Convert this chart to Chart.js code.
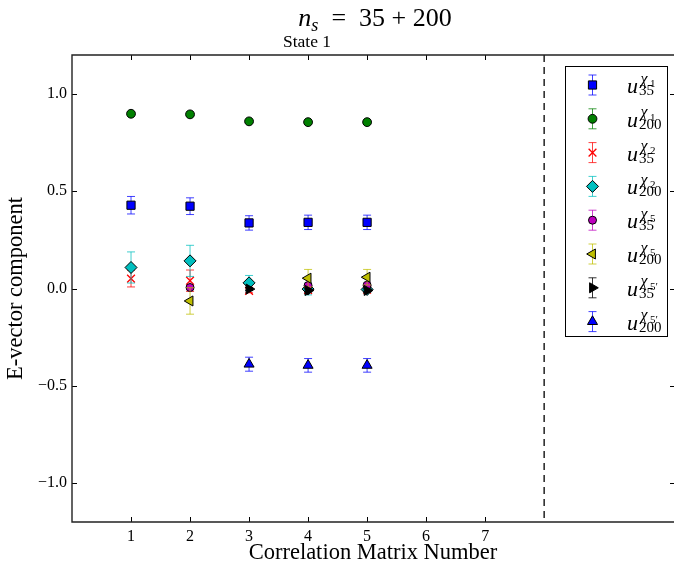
<!DOCTYPE html>
<html>
<head>
<meta charset="utf-8">
<script src="https://cdn.jsdelivr.net/npm/chart.js@4/dist/chart.umd.min.js"></script>
<style>
  html, body { margin: 0; padding: 0; background: #fff; overflow: hidden; }
  #wrap { position: relative; width: 674px; height: 564px; }
  #c { position: absolute; left: 0; top: 0; }
  .t { position: absolute; font-family: 'Liberation Serif', serif; color: #000; white-space: nowrap; line-height: 1; }
  .i { font-style: italic; }
</style>
</head>
<body>
<div id="wrap"><canvas id="c" width="674" height="564"></canvas></div>
<script>
// ---- data ----
const categories = [1, 2, 3, 4, 5];
const xTicks = [1, 2, 3, 4, 5, 6, 7];
const yTicks = [-1.0, -0.5, 0.0, 0.5, 1.0];
const xRange = [0, 10.2];
const yRange = [-1.2, 1.2];
const dividerAt = 8;

const u35_chi1      = [0.428, 0.423, 0.337, 0.340, 0.340];
const u35_chi1_err  = [0.045, 0.043, 0.037, 0.037, 0.037];
const u200_chi1     = [0.898, 0.895, 0.859, 0.855, 0.855];
const u200_chi1_err = [0.012, 0.012, 0.008, 0.008, 0.008];
const u35_chi2      = [0.051, 0.040, -0.012, -0.008, -0.006];
const u35_chi2_err  = [0.043, 0.055, 0.010, 0.010, 0.010];
const u200_chi2     = [0.108, 0.142, 0.029, -0.003, -0.005];
const u200_chi2_err = [0.080, 0.080, 0.038, 0.030, 0.015];
const u35_chi5      = [null, 0.005, null, 0.015, 0.017];
const u35_chi5_err  = [null, 0.010, null, 0.010, 0.010];
const u200_chi5     = [null, -0.064, null, 0.053, 0.058];
const u200_chi5_err = [null, 0.068, null, 0.045, 0.040];
const u35_chi5p     = [null, null, -0.003, -0.010, -0.010];
const u35_chi5p_err = [null, null, 0.008, 0.008, 0.008];
const u200_chi5p    = [null, null, -0.389, -0.395, -0.395];
const u200_chi5p_err= [null, null, 0.036, 0.035, 0.035];

const seriesValues = [u35_chi1, u200_chi1, u35_chi2, u200_chi2, u35_chi5, u200_chi5, u35_chi5p, u200_chi5p];
const seriesErrors = [u35_chi1_err, u200_chi1_err, u35_chi2_err, u200_chi2_err, u35_chi5_err, u200_chi5_err, u35_chi5p_err, u200_chi5p_err];
const legendChiIndex = ['1', '1', '2', '2', '5', '5', '5\u2032', '5\u2032'];
const legendSampleSize = ['35', '200', '35', '200', '35', '200', '35', '200'];

// ---- styles ----
const markerStyles = [
  { color: '#0000ff', bar: 'rgba(0,0,255,0.75)',   shape: 'rect',     r: 5.8, rot: 0,   edge: '#000', ew: 1 },
  { color: '#008000', bar: 'rgba(0,128,0,0.75)',   shape: 'circle',   r: 4.4, rot: 0,   edge: '#000', ew: 1 },
  { color: '#ff0000', bar: 'rgba(255,0,0,0.75)',   shape: 'crossRot', r: 5.5, rot: 0,   edge: '#ff0000', ew: 1.3 },
  { color: '#00bfbf', bar: 'rgba(0,191,191,0.75)', shape: 'rectRot',  r: 6.0, rot: 0,   edge: '#000', ew: 1 },
  { color: '#bf00bf', bar: 'rgba(191,0,191,0.75)', shape: 'circle',   r: 4.0, rot: 0,   edge: '#000', ew: 1 },
  { color: '#bfbf00', bar: 'rgba(191,191,0,0.75)', shape: 'triangle', r: 5.8, rot: -90, edge: '#000', ew: 1 },
  { color: '#000000', bar: 'rgba(0,0,0,0.8)',      shape: 'triangle', r: 5.8, rot: 90,  edge: '#000', ew: 1 },
  { color: '#0000ff', bar: 'rgba(0,0,255,0.75)',   shape: 'triangle', r: 5.8, rot: 0,   edge: '#000', ew: 1 }
];

const datasets = seriesValues.map((vals, s) => {
  const st = markerStyles[s];
  const pts = [];
  categories.forEach((c, k) => {
    if (vals[k] !== null) pts.push({ x: c, y: vals[k], e: seriesErrors[s][k] });
  });
  return {
    data: pts,
    showLine: false,
    order: -s,
    pointStyle: st.shape,
    pointRadius: st.r,
    pointRotation: st.rot,
    pointBackgroundColor: st.color,
    pointBorderColor: st.edge,
    pointBorderWidth: st.ew,
    barColor: st.bar
  };
});

// error bars drawn under each series' markers
const errorBars = {
  id: 'errorBars',
  beforeDatasetDraw(chart, args) {
    const ds = chart.data.datasets[args.index];
    const { ctx, scales: { x, y } } = chart;
    ctx.save();
    ctx.strokeStyle = ds.barColor;
    ctx.lineWidth = 1;
    ds.data.forEach(p => {
      const px = x.getPixelForValue(p.x);
      const y1 = y.getPixelForValue(p.y + p.e);
      const y2 = y.getPixelForValue(p.y - p.e);
      ctx.beginPath();
      ctx.moveTo(px, y1); ctx.lineTo(px, y2);
      ctx.moveTo(px - 4, y1); ctx.lineTo(px + 4, y1);
      ctx.moveTo(px - 4, y2); ctx.lineTo(px + 4, y2);
      ctx.stroke();
    });
    ctx.restore();
  }
};

// axes frame, inward ticks and the dashed divider
const frame = {
  id: 'frame',
  afterDatasetsDraw(chart) {
    const { ctx, chartArea: a, scales: { x, y } } = chart;
    ctx.save();
    ctx.strokeStyle = '#000';
    ctx.lineWidth = 1;
    ctx.beginPath();
    xTicks.forEach(v => {
      const px = Math.round(x.getPixelForValue(v)) + 0.5;
      ctx.moveTo(px, a.bottom); ctx.lineTo(px, a.bottom - 5);
      ctx.moveTo(px, a.top); ctx.lineTo(px, a.top + 5);
    });
    yTicks.forEach(v => {
      const py = Math.round(y.getPixelForValue(v)) + 0.5;
      ctx.moveTo(a.left, py); ctx.lineTo(a.left + 5, py);
      ctx.moveTo(a.right + 1, py); ctx.lineTo(a.right - 4, py);
    });
    ctx.stroke();

    ctx.strokeStyle = '#222';
    ctx.lineWidth = 1.5;
    ctx.setLineDash([7, 5]);
    const dx = x.getPixelForValue(dividerAt);
    ctx.beginPath();
    ctx.moveTo(dx, a.top); ctx.lineTo(dx, a.bottom);
    ctx.stroke();
    ctx.setLineDash([]);

    ctx.strokeStyle = '#222';
    ctx.lineWidth = 1.4;
    ctx.beginPath();
    ctx.moveTo(a.right + 2, a.top); ctx.lineTo(a.left, a.top);
    ctx.lineTo(a.left, a.bottom); ctx.lineTo(a.right + 2, a.bottom);
    ctx.stroke();
    ctx.restore();
  }
};

// legend box with marker samples
const legendBox = {
  id: 'legendBox',
  afterDraw(chart) {
    const { ctx } = chart;
    const bx = 565.5, by = 66.5, bw = 102, bh = 270;
    ctx.save();
    ctx.fillStyle = '#fff';
    ctx.fillRect(bx, by, bw, bh);
    ctx.strokeStyle = '#000';
    ctx.lineWidth = 1;
    ctx.strokeRect(bx, by, bw, bh);
    markerStyles.forEach((st, i) => {
      const cx = 592.5, cy = 85 + i * 33.8;
      ctx.strokeStyle = st.bar;
      ctx.lineWidth = 1;
      ctx.beginPath();
      ctx.moveTo(cx, cy - 10); ctx.lineTo(cx, cy + 10);
      ctx.moveTo(cx - 4, cy - 10); ctx.lineTo(cx + 4, cy - 10);
      ctx.moveTo(cx - 4, cy + 10); ctx.lineTo(cx + 4, cy + 10);
      ctx.stroke();
      ctx.fillStyle = st.color;
      ctx.strokeStyle = st.edge;
      ctx.lineWidth = st.ew;
      Chart.helpers.drawPoint(ctx, { pointStyle: st.shape, radius: st.r, rotation: st.rot, borderWidth: st.ew }, cx, cy);
    });
    ctx.restore();
  }
};

new Chart(document.getElementById('c'), {
  type: 'scatter',
  data: { datasets },
  options: {
    responsive: false,
    animation: false,
    devicePixelRatio: 1,
    layout: { autoPadding: false, padding: { top: 55, right: 0, left: 0, bottom: 0 } },
    plugins: { legend: { display: false }, tooltip: { enabled: false } },
    scales: {
      x: {
        type: 'linear', min: xRange[0], max: xRange[1],
        grid: { display: false, drawTicks: false }, border: { display: false },
        afterBuildTicks: s => { s.ticks = xTicks.map(v => ({ value: v })); },
        afterFit: s => { s.height = 42; s.paddingLeft = 0; s.paddingRight = 0; },
        ticks: { color: '#000', font: { family: 'Liberation Serif', size: 16 }, padding: 5, callback: v => String(v) },
        title: { display: true, text: 'Correlation Matrix Number', color: '#000',
                 font: { family: 'Liberation Serif', size: 22.5 }, padding: { top: 0, bottom: -3 } }
      },
      y: {
        type: 'linear', min: yRange[0], max: yRange[1],
        grid: { display: false, drawTicks: false }, border: { display: false },
        afterBuildTicks: s => { s.ticks = yTicks.map(v => ({ value: v })); },
        afterFit: s => { s.width = 72; s.paddingTop = 0; s.paddingBottom = 0; },
        ticks: { color: '#000', font: { family: 'Liberation Serif', size: 16 }, padding: 5,
                 callback: v => (v < 0 ? '\u2212' : '') + Math.abs(v).toFixed(1) },
        title: { display: true, text: 'E-vector component', color: '#000',
                 font: { family: 'Liberation Serif', size: 22.5 }, padding: { top: 2.5, bottom: 0 } }
      }
    }
  },
  plugins: [errorBars, frame, legendBox]
});

// ---- text overlays: title, subtitle, legend labels ----
const wrap = document.getElementById('wrap');
function addText(html, left, baseline, size, cls, extra) {
  const el = document.createElement('div');
  el.className = 't ' + (cls || '');
  el.style.fontSize = size + 'px';
  el.style.left = left + 'px';
  el.style.top = (baseline - 0.8375 * size) + 'px';
  if (extra) Object.assign(el.style, extra);
  el.innerHTML = html;
  wrap.appendChild(el);
  return el;
}

addText('<span class="i">n</span><span style="font-size:0.7em;vertical-align:-0.3em;line-height:1" class="i">s</span>&#8194;=&#8194;35 + 200',
  175, 26.5, 26, '', { width: '400px', textAlign: 'center' });
addText('State 1', 257, 47.5, 17.5, '', { width: '100px', textAlign: 'center' });

legendChiIndex.forEach((chiIdx, i) => {
  const cy = 85 + i * 33.8;
  const x0 = 627;
  addText('u', x0, cy + 8.5, 22, 'i');
  addText('\u03c7', x0 + 13.5, cy - 1, 16, 'i');
  addText(chiIdx, x0 + 23, cy + 2, 11, '');
  addText(legendSampleSize[i], x0 + 12, cy + 10.5, 15, '');
});
</script>
</body>
</html>
